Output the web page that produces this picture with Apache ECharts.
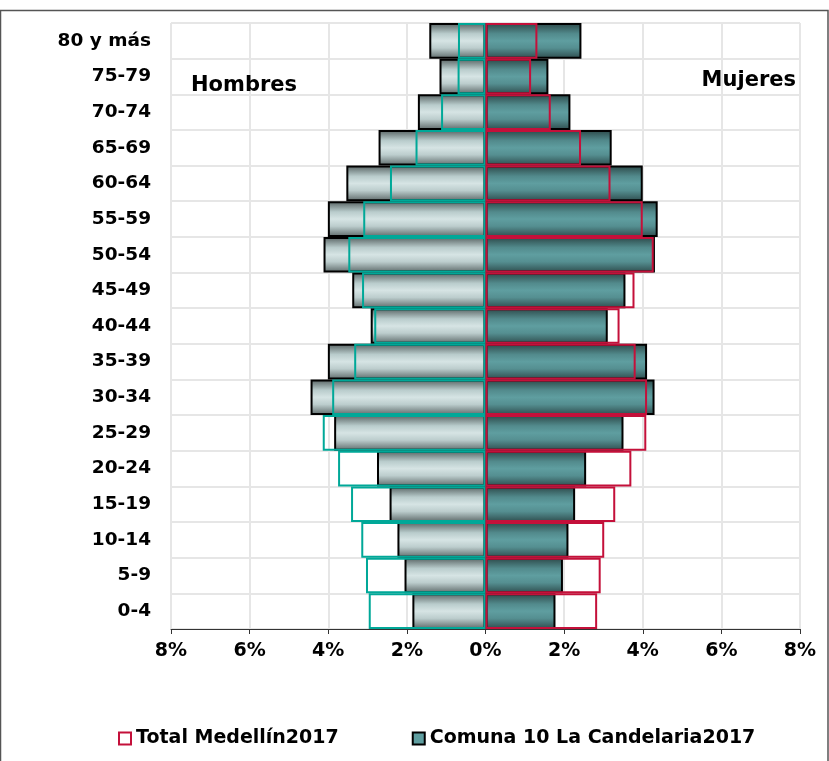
<!DOCTYPE html>
<html>
<head>
<meta charset="utf-8">
<script src="https://cdn.jsdelivr.net/npm/echarts@6/dist/echarts.min.js"></script>
<style>html,body{margin:0;padding:0;background:#fff;}#c{width:829px;height:761px;}</style>
</head>
<body>
<div id="c"></div>
<script>
const categories = ['0-4','5-9','10-14','15-19','20-24','25-29','30-34','35-39','40-44','45-49','50-54','55-59','60-64','65-69','70-74','75-79','80 y más'];
// Comuna 10 La Candelaria 2017 (%)
const menComuna   = [1.86,2.06,2.24,2.44,2.76,3.85,4.45,4.01,2.92,3.39,4.12,4.01,3.54,2.72,1.72,1.17,1.43];
const womenComuna = [1.78,1.97,2.11,2.28,2.56,3.51,4.30,4.11,3.11,3.56,4.31,4.38,4.00,3.21,2.16,1.60,2.44];
// Total Medellín 2017 (%)
const menMedellin   = [2.97,3.04,3.16,3.42,3.75,4.14,3.90,3.34,2.83,3.14,3.49,3.11,2.43,1.78,1.13,0.71,0.70];
const womenMedellin = [2.84,2.93,3.02,3.30,3.71,4.09,4.11,3.82,3.41,3.79,4.28,4.00,3.18,2.43,1.66,1.16,1.32];
const xTicks = {min:-8, max:8, interval:2};
const sideLabels = ['Hombres','Mujeres'];
const seriesNames = ['Total Medellín2017','Comuna 10 La Candelaria2017'];

const FONT = 'DejaVu Sans';
const menGrad = new echarts.graphic.LinearGradient(0,0,0,1,[
  {offset:0,color:'#556060'},{offset:0.3,color:'#b9cccc'},{offset:0.5,color:'#d6e4e4'},
  {offset:0.7,color:'#bccdcd'},{offset:1,color:'#5c6868'}]);
const womenGrad = new echarts.graphic.LinearGradient(0,0,0,1,[
  {offset:0,color:'#2b4747'},{offset:0.3,color:'#528a8c'},{offset:0.5,color:'#5f9ea0'},
  {offset:0.7,color:'#558f91'},{offset:1,color:'#2e4c4d'}]);
const TEAL = '#00a898', CRIMSON = '#c4103a';

const chart = echarts.init(document.getElementById('c'), null, {renderer:'canvas'});
const common = {type:'bar', barGap:'-100%', barCategoryGap:'0%', animation:false};
chart.setOption({
  animation:false,
  grid:{left:171, right:29, top:23, bottom:132, containLabel:false},
  xAxis:{type:'value', min:xTicks.min, max:xTicks.max, interval:xTicks.interval,
    axisLine:{show:true, lineStyle:{color:'#333', width:1}},
    axisTick:{show:true, length:5, lineStyle:{color:'#333'}},
    splitLine:{show:true, lineStyle:{color:'#e6e6e6', width:2}},
    axisLabel:{formatter:v=>Math.abs(v)+'%', fontFamily:FONT, fontWeight:'bold', fontSize:19, color:'#000', margin:13}},
  yAxis:{type:'category', data:categories,
    axisLine:{show:false}, axisTick:{show:false},
    splitLine:{show:true, lineStyle:{color:'#e6e6e6', width:2}},
    axisLabel:{fontFamily:FONT, fontWeight:'bold', fontSize:18.5, color:'#000', margin:20}},
  legend:{left:113, top:724, itemWidth:12, itemHeight:12, itemGap:73, icon:'rect',
    textStyle:{fontFamily:FONT, fontWeight:'bold', fontSize:19, color:'#000'},
    data:[{name:seriesNames[0], itemStyle:{color:'#fff', borderColor:CRIMSON, borderWidth:2}},
          {name:seriesNames[1], itemStyle:{color:'#5f9ea0', borderColor:'#000', borderWidth:2}}]},
  graphic:[
    {type:'text', z:100, left:191, top:75, style:{text:sideLabels[0], font:'bold 21px "DejaVu Sans"', fill:'#000'}},
    {type:'text', z:100, right:33, top:70, style:{text:sideLabels[1], font:'bold 21px "DejaVu Sans"', fill:'#000'}},
    {type:'rect', z:100, shape:{x:0.5, y:10.5, width:827.5, height:760}, style:{fill:'none', stroke:'#555', lineWidth:1.5}, silent:true}
  ],
  series:[
    Object.assign({}, common, {name:seriesNames[1], data:menComuna.map(v=>-v),
      itemStyle:{color:menGrad, borderColor:'#000', borderWidth:2}}),
    Object.assign({}, common, {name:seriesNames[1], data:womenComuna,
      itemStyle:{color:womenGrad, borderColor:'#000', borderWidth:2}}),
    Object.assign({}, common, {name:seriesNames[0], data:menMedellin.map(v=>-v),
      itemStyle:{color:'rgba(0,0,0,0)', borderColor:TEAL, borderWidth:2}}),
    Object.assign({}, common, {name:seriesNames[0], data:womenMedellin,
      itemStyle:{color:'rgba(0,0,0,0)', borderColor:CRIMSON, borderWidth:2}})
  ]
});
</script>
</body>
</html>
